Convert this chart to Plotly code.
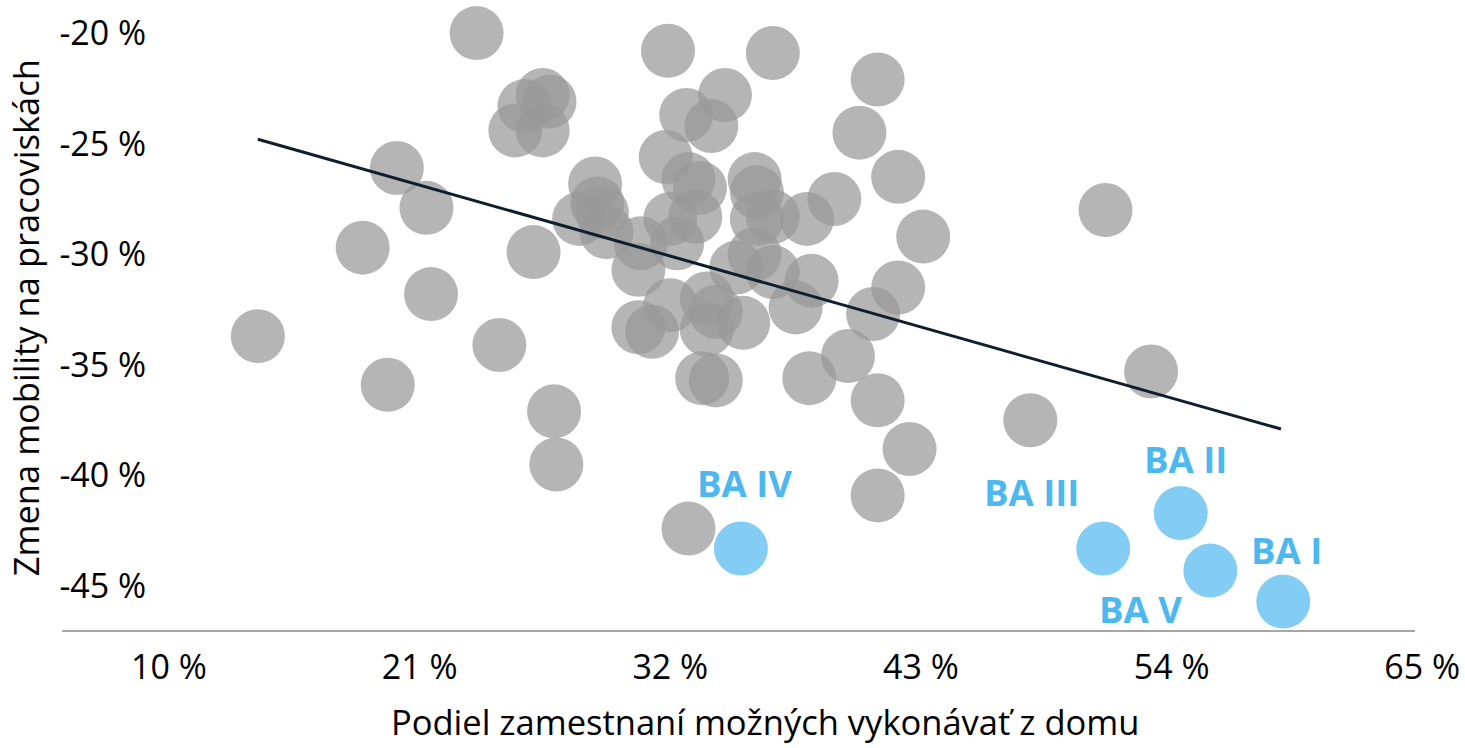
import plotly.graph_objects as go

# Gray points: share of jobs doable from home (%), change in workplace mobility (%)
gray_x = [13.9, 18.5, 19.6, 20.0, 21.3, 21.5, 23.5, 24.5, 25.2, 25.6, 26.4, 26.7, 26.4, 26.0, 26.9, 27.0,
          28.7, 28.8, 28.0, 29.0, 29.2, 30.7, 32.0, 33.1, 32.3, 30.6, 31.8, 32.8, 33.3, 31.9, 32.7, 34.4,
          33.8, 36.5, 35.7, 35.8, 35.8, 36.5, 38.0, 39.2, 34.9, 35.7, 36.5, 38.2, 37.5, 40.9, 42.0, 39.8,
          38.1, 41.1, 42.5, 41.1, 43.1, 42.0, 40.3, 41.1, 32.0, 30.6, 31.2, 33.6, 34.0, 33.6, 35.2, 33.4,
          34.0, 32.8, 47.8, 51.1, 53.1]
gray_y = [-33.7, -29.7, -35.9, -26.1, -27.9, -31.8, -20.0, -34.1, -24.4, -23.3, -22.8, -23.1, -24.4, -29.9, -37.1, -39.5,
          -26.8, -27.7, -28.4, -28.1, -29.0, -29.5, -28.4, -28.3, -29.5, -30.7, -25.6, -26.6, -27.0, -20.8, -23.7, -22.8,
          -24.2, -20.9, -26.6, -27.2, -28.4, -28.3, -28.4, -27.5, -30.6, -30.0, -30.8, -31.2, -32.4, -32.7, -31.5, -34.6,
          -35.6, -36.6, -38.8, -40.9, -29.2, -26.5, -24.5, -22.1, -32.3, -33.3, -33.5, -32.0, -32.6, -33.4, -33.1, -35.6,
          -35.7, -42.4, -37.5, -28.0, -35.3]

# Bratislava districts (highlighted)
ba_names = ["BA I", "BA II", "BA III", "BA IV", "BA V"]
ba_x = [58.9, 54.4, 51.0, 35.1, 55.7]
ba_y = [-45.7, -41.7, -43.3, -43.3, -44.3]

# Linear trend line endpoints
trend_x = [13.9, 58.8]
trend_y = [-24.8, -37.9]

x_ticks = [10, 21, 32, 43, 54, 65]
x_tick_labels = ["10 %", "21 %", "32 %", "43 %", "54 %", "65 %"]
y_ticks = [-20, -25, -30, -35, -40, -45]
y_tick_labels = ["-20 %", "-25 %", "-30 %", "-35 %", "-40 %", "-45 %"]

# label offsets (pixels) relative to the point
label_dx = [3, 5, -72, 4, -70]
label_dy = [52, 54, 56, 65, -38]

FONT = "Open Sans"
fig = go.Figure()
fig.add_trace(go.Scatter(x=gray_x, y=gray_y, mode="markers",
                         marker=dict(size=54, color="rgba(152,152,152,0.72)", line=dict(width=0)),
                         cliponaxis=False, hoverinfo="skip", showlegend=False))
fig.add_trace(go.Scatter(x=ba_x, y=ba_y, mode="markers",
                         marker=dict(size=54, color="#83CDF5", line=dict(width=0)),
                         cliponaxis=False, showlegend=False))
fig.add_trace(go.Scatter(x=trend_x, y=trend_y, mode="lines",
                         line=dict(color="#0F1E2D", width=3), showlegend=False))

for n, xx, yy, dx, dy in zip(ba_names, ba_x, ba_y, label_dx, label_dy):
    fig.add_annotation(x=xx, y=yy, text="<b>" + n + "</b>", showarrow=False,
                       xshift=dx, yshift=dy,
                       font=dict(family=FONT, size=36.5, color="#4DB8F0"))

fig.add_shape(type="line", xref="paper", yref="paper", x0=-0.076, x1=0.9744, y0=0, y1=0,
              line=dict(color="#A6A6A6", width=2))

fig.add_annotation(xref="paper", yref="paper", x=(766 - 160) / 1290, y=-90 / 626,
                   text="Podiel zamestnaní možných vykonávať z domu", showarrow=False,
                   font=dict(family=FONT, size=34.5, color="#000000"), yanchor="middle",
                   borderpad=0)
fig.add_annotation(xref="paper", yref="paper", x=(25 - 160) / 1290, y=0.5,
                   text="Zmena mobility na pracoviskách", showarrow=False, textangle=-90,
                   font=dict(family=FONT, size=34.5, color="#000000"), xanchor="center")

fig.update_layout(
    width=1465, height=748,
    margin=dict(l=160, r=15, t=5, b=117),
    paper_bgcolor="white", plot_bgcolor="white",
    font=dict(family=FONT, size=34, color="#000000"),
    xaxis=dict(range=[9.606, 66.13], tickvals=x_ticks, ticktext=x_tick_labels,
               showgrid=False, zeroline=False, showline=False,
               ticks="outside", ticklen=6, tickcolor="rgba(0,0,0,0)",
               tickfont=dict(family=FONT, size=34)),
    yaxis=dict(range=[-47.03, -18.73], tickvals=y_ticks, ticktext=y_tick_labels,
               showgrid=False, zeroline=False, showline=False,
               ticks="outside", ticklen=6, tickcolor="rgba(0,0,0,0)",
               tickfont=dict(family=FONT, size=34)),
)

fig.write_html("out.html", config={"displayModeBar": False},
               post_script="document.body.style.margin='0';document.body.style.overflow='hidden';")
